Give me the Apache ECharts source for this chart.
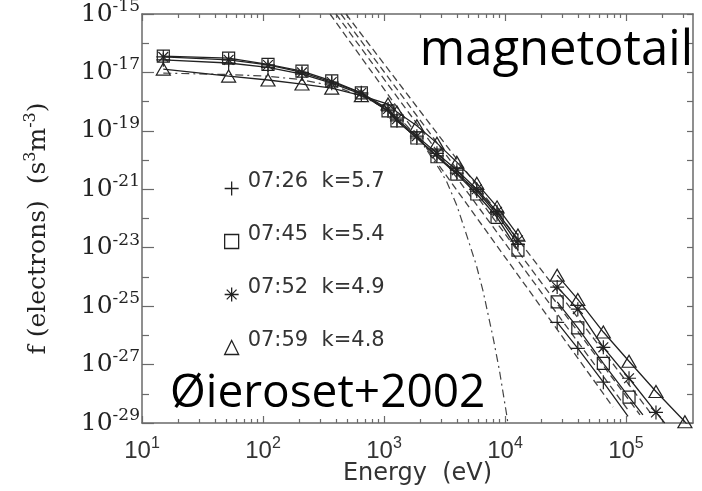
<!DOCTYPE html>
<html><head><meta charset="utf-8">
<script src="https://cdn.jsdelivr.net/npm/echarts@6/dist/echarts.min.js"></script>
<style>html,body{margin:0;padding:0;background:#fff}#c{width:702px;height:491px}</style>
</head><body><div id="c"></div>
<script>
// ---------------- data ----------------
const seriesNames = ['07:26  k=5.7', '07:45  k=5.4', '07:52  k=4.9', '07:59  k=4.8'];

// energies (eV)
const energyLow  = [15, 52, 110, 210, 370, 650, 1080, 1280, 1870, 2740, 4000, 5850, 8600, 12800];
const energyHigh = [27000, 40000, 65000, 106000, 177000, 307000];

// f (s^3 m^-3), low-energy points
const fLow0726 = [2.7e-17, 2.1e-17, 1.5e-17, 8.8e-18, 4.3e-18, 1.8e-18, 4.8e-19, 2.2e-19, 5.7e-20, 1.4e-20, 3.6e-21, 8.7e-22, 1.4e-22, 1.3e-23];
const fLow0745 = [3.6e-17, 3.1e-17, 1.9e-17, 1.1e-17, 5.1e-18, 2.0e-18, 4.8e-19, 2.2e-19, 5.7e-20, 1.3e-20, 3.3e-21, 6.9e-22, 1.1e-22, 8.3e-24];
const fLow0752 = [3.4e-17, 2.7e-17, 1.8e-17, 1.0e-17, 4.7e-18, 2.0e-18, 5.6e-19, 2.5e-19, 6.6e-20, 1.7e-20, 4.5e-21, 1.0e-21, 1.7e-22, 1.8e-23];
const fLow0759 = [1.3e-17, 7.5e-18, 5.5e-18, 4.0e-18, 2.9e-18, 1.6e-18, 8.3e-19, 4.4e-19, 1.5e-19, 3.8e-20, 8.5e-21, 1.6e-21, 2.5e-22, 2.7e-23];

// f, high-energy points
const fHigh0726 = [2.8e-26, 3.6e-27, 2.5e-28];
const fHigh0745 = [1.4e-25, 1.8e-26, 1.1e-27, 7.7e-29];
const fHigh0752 = [4.5e-25, 7.9e-26, 3.9e-27, 3.4e-28, 2.3e-29];
const fHigh0759 = [1.15e-24, 1.7e-25, 1.3e-26, 1.3e-27, 1.2e-28, 1.1e-29];

// where each solid fit line runs out below the last marker
const tailE = [104000, 138000, 209000, 350000];
const tailF = [1.7e-29, 1.9e-29, 1.0e-29, 5.5e-30];

// dashed power-law lines: [start, end]
const powerLawE = [[358, 78200], [401, 104000], [441, 130600], [485, 164000]];
const powerLawF = [[1e-15, 3.5e-29], [1e-15, 2.8e-29], [1e-15, 1.9e-29], [1e-15, 1.9e-29]];

// dash-dot Maxwellian curve
const maxwellE = [15, 50, 100, 200, 400, 700, 1000, 1500, 2000, 2900, 3300, 4000, 4850, 5800, 6600, 8000, 9000, 10400, 10800];
const maxwellF = [9.5e-18, 8.5e-18, 7.6e-18, 5.8e-18, 3.3e-18, 1.35e-18, 6.3e-19, 1.7e-19, 4.7e-20, 4.6e-21, 1.8e-21, 2.8e-22, 2.5e-23, 2.5e-24, 3.2e-25, 7.9e-27, 6.3e-28, 1.6e-29, 5.0e-30];

// tick labels (decade exponents)
const xTickExp = [1, 2, 3, 4, 5];
const yTickExp = [-15, -17, -19, -21, -23, -25, -27, -29];

// ---------------- chart ----------------
const L = Math.log10;
const X_MIN = 1, X_MAX = 5.554, Y_MIN = -29, Y_MAX = -15;
const AX = '#6a6a6a';
const INK = '#222';

const PLUS = 'path://M0,6L12,6M6,0L6,12';
const STAR = 'path://M0,6L12,6M6,0L6,12M1.8,1.8L10.2,10.2M1.8,10.2L10.2,1.8';
const symbols = [PLUS, 'rect', STAR, 'triangle'];
const symSizes = [[14, 14], [12, 12], [14, 14], [14, 12]];

const lowF = [fLow0726, fLow0745, fLow0752, fLow0759];
const highF = [fHigh0726, fHigh0745, fHigh0752, fHigh0759];

function buildData(i) {
  const d = energyLow.map((e, k) => [L(e), L(lowF[i][k])]);
  d.push([L(20000), '-']);
  highF[i].forEach((f, k) => d.push([L(energyHigh[k]), L(f)]));
  d.push({ value: [L(tailE[i]), L(tailF[i])], symbol: 'none' });
  return d;
}

// minor decade ticks
const xMinor = [];
for (let n = 1; n <= 5; n++) for (let k = 2; k <= 9; k++) { const v = n + L(k); if (v <= X_MAX) xMinor.push(v); }
const yEven = [], yAll = [];
for (let e = Y_MIN; e <= Y_MAX; e++) { yAll.push(e); if (yTickExp.indexOf(e) < 0) yEven.push(e); }

const series = [];
powerLawE.forEach((pe, i) => {
  series.push({
    type: 'line', silent: true, symbol: 'none', z: 1,
    data: [[L(pe[0]), L(powerLawF[i][0])], [L(pe[1]), L(powerLawF[i][1])]],
    lineStyle: { color: '#444', width: 1.3, type: [7, 4] }
  });
});
series.push({
  type: 'line', silent: true, symbol: 'none', z: 1, smooth: false,
  data: maxwellE.map((e, k) => [L(e), L(maxwellF[k])]),
  lineStyle: { color: '#444', width: 1.2, type: [8, 4, 2, 4] }
});
seriesNames.forEach((name, i) => {
  series.push({
    name, type: 'line', z: 3,
    data: buildData(i),
    symbol: symbols[i], symbolSize: symSizes[i], symbolKeepAspect: false,
    itemStyle: { color: 'transparent', borderColor: INK, borderWidth: 1.2 },
    lineStyle: { color: INK, width: 1.3 },
    connectNulls: false
  });
});

const xRich = {
  a: { fontFamily: 'Liberation Sans', fontSize: 24, color: '#333', lineHeight: 30 },
  b: { fontFamily: 'Liberation Sans', fontSize: 16, color: '#333', verticalAlign: 'top', lineHeight: 16 }
};
const yRich = {
  a: { fontFamily: 'DejaVu Serif', fontSize: 25, color: INK, lineHeight: 32 },
  b: { fontFamily: 'DejaVu Serif', fontSize: 17, color: INK, verticalAlign: 'top', lineHeight: 17 }
};

function xAx(pos, ticks, len, labels, line) {
  return {
    type: 'value', position: pos, min: X_MIN, max: X_MAX, interval: 1,
    axisLine: { show: line, onZero: false, lineStyle: { color: AX, width: 1.5 } },
    axisTick: { show: true, inside: true, length: len, customValues: ticks, lineStyle: { color: AX, width: 1.2 } },
    axisLabel: labels ? { show: true, margin: 13, customValues: xTickExp, formatter: v => '{a|10}{b|' + v + '}', rich: xRich } : { show: false },
    splitLine: { show: false }
  };
}
function yAx(pos, ticks, len, labels, line) {
  return {
    type: 'value', position: pos, min: Y_MIN, max: Y_MAX, interval: 1,
    axisLine: { show: line, onZero: false, lineStyle: { color: AX, width: 1.5 } },
    axisTick: { show: true, inside: true, length: len, customValues: ticks, lineStyle: { color: AX, width: 1.2 } },
    axisLabel: labels ? { show: true, margin: 2, customValues: yTickExp, formatter: v => '{a|10}{b|' + v + '}', rich: yRich } : { show: false },
    splitLine: { show: false }
  };
}

const xAxes = [
  Object.assign(xAx('bottom', xTickExp, 7, true, true), {
    name: 'Energy  (eV)', nameLocation: 'middle', nameGap: 39, nameMoveOverlap: false,
    nameTextStyle: { fontFamily: 'DejaVu Sans', fontSize: 24, color: '#333' }
  }),
  xAx('bottom', xMinor, 4, false, false),
  xAx('top', xTickExp, 7, false, true),
  xAx('top', xMinor, 4, false, false)
];
const yAxes = [
  Object.assign(yAx('left', yTickExp, 12, true, true), {
    name: '{a|f (electrons)  (s}{b|3}{a|m}{b|-3}{a|)}', nameLocation: 'middle', nameGap: 89,
    nameTextStyle: {
      padding: [0, 20, 0, 0],
      rich: {
        a: { fontFamily: 'DejaVu Serif', fontSize: 25, color: INK, lineHeight: 30 },
        b: { fontFamily: 'DejaVu Serif', fontSize: 16, color: INK, verticalAlign: 'top', lineHeight: 16 }
      }
    }
  }),
  yAx('left', yEven, 7, false, false),
  yAx('right', yAll, 6, false, true)
];

const chart = echarts.init(document.getElementById('c'), null, { renderer: 'canvas' });
chart.setOption({
  animation: false,
  backgroundColor: '#fff',
  grid: { left: 142, right: 9, top: 14, bottom: 68, containLabel: false, outerBoundsMode: 'none' },
  xAxis: xAxes,
  yAxis: yAxes,
  legend: {
    orient: 'vertical', left: 219, top: 166, itemGap: 20, itemWidth: 14, itemHeight: 14,
    selectedMode: false,
    data: seriesNames.map((n, i) => ({ name: n, icon: symbols[i] })),
    itemStyle: { color: 'transparent', borderColor: INK, borderWidth: 1.3 },
    formatter: n => '{t|' + n + '}\n{s| }',
    textStyle: {
      color: '#333',
      rich: {
        t: { fontFamily: 'DejaVu Sans', fontSize: 21, color: '#333', lineHeight: 21, padding: [0, 0, 0, 4] },
        s: { fontSize: 10, lineHeight: 14 }
      }
    }
  },
  graphic: [
    { type: 'text', x: 693, y: 51, z: 10, style: { text: 'magnetotail', fontFamily: 'Open Sans', fontSize: 49, fill: '#000', align: 'right', verticalAlign: 'middle' } },
    { type: 'text', x: 170, y: 394, z: 10, style: { text: 'Øieroset+2002', fontFamily: 'Open Sans', fontSize: 46, fill: '#000', align: 'left', verticalAlign: 'middle' } }
  ],
  series
});
</script>
</body></html>
